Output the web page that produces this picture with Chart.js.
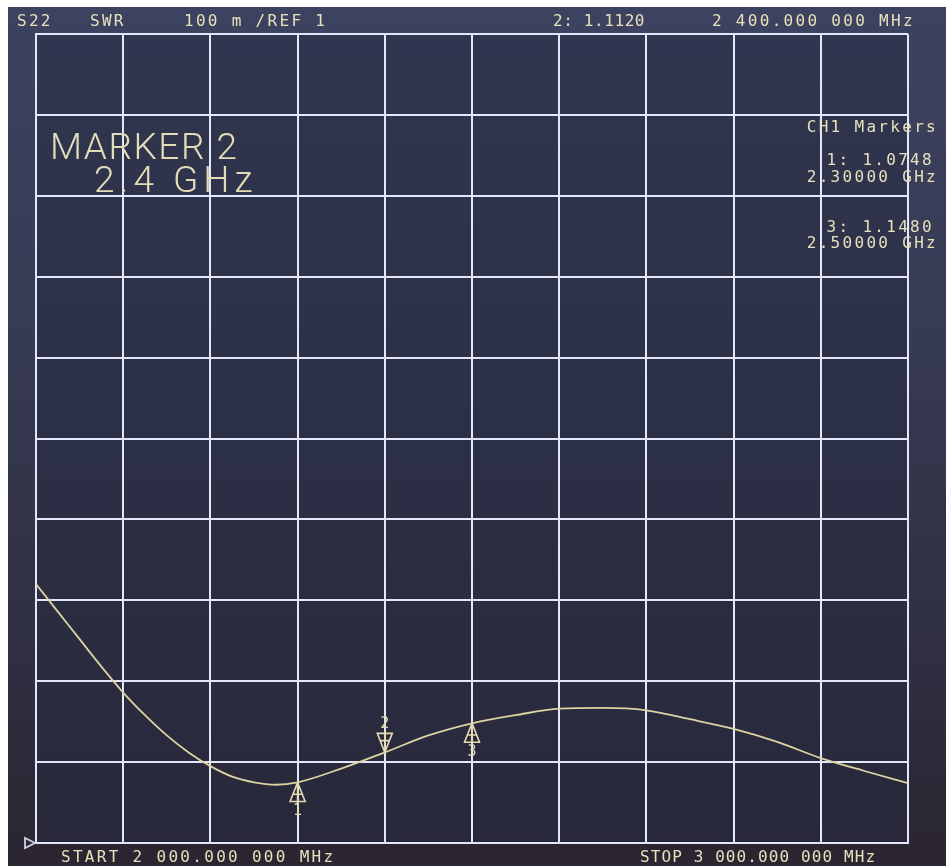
<!DOCTYPE html>
<html lang="en">
<head>
  <meta charset="UTF-8">
  <title>S22 SWR</title>
  <script src="https://cdn.jsdelivr.net/npm/chart.js"></script>
  <style>
    body {
      margin: 0;
      padding: 0;
      background: #ffffff;
      width: 946px;
      height: 866px;
      overflow: hidden;
      position: relative;
    }
    #screen {
      position: absolute;
      left: 8px;
      top: 7px;
      width: 938px;
      height: 859px;
      background: linear-gradient(180deg, #3d4260 0%, #363a52 40%, #302f42 75%, #2a2530 100%);
    }
    #wrap {
      position: absolute;
      left: 0;
      top: 0;
      width: 946px;
      height: 866px;
    }
    .txt {
      position: absolute;
      font-family: "DejaVu Sans Mono", monospace;
      font-size: 16px;
      color: #e6e0bd;
      white-space: pre;
      letter-spacing: 2.3px;
      line-height: 1;
    }
    .big {
      position: absolute;
      font-family: Roboto, "Noto Sans", sans-serif;
      font-weight: 300;
      font-size: 37px;
      color: #e2dcb8;
      white-space: pre;
      line-height: 1;
      letter-spacing: 1.5px;
    }
  </style>
</head>
<body>
  <div id="screen"></div>
  <div id="wrap"><canvas id="c"></canvas></div>

  <!-- Kopfzeile -->
  <div class="txt" style="left:17px; top:13px;">S22</div>
  <div class="txt" style="left:90px; top:13px;">SWR</div>
  <div class="txt" style="left:184px; top:13px;">100 m /REF 1</div>
  <div class="txt" style="left:553px; top:13px; letter-spacing:0.6px;">2: 1.1120</div>
  <div class="txt" style="left:712px; top:13px;">2 400.000 000 MHz</div>

  <!-- Marker-Anzeige -->
  <div class="big" style="left:50px; top:128px;">MARKER 2</div>
  <div class="big" style="left:94px; top:161px; letter-spacing:5px;">2.4 GHz</div>

  <div class="txt" style="right:8px; top:119px;">CH1 Markers</div>
  <div class="txt" style="right:12px; top:152px;">1: 1.0748</div>
  <div class="txt" style="right:8px; top:169px;">2.30000 GHz</div>
  <div class="txt" style="right:12px; top:219px;">3: 1.1480</div>
  <div class="txt" style="right:8px; top:235px;">2.50000 GHz</div>

  <!-- Fußzeile -->
  <div class="txt" style="left:61px; top:849px; letter-spacing:2.3px;">START 2 000.000 000 MHz</div>
  <div class="txt" style="left:640px; top:849px; letter-spacing:1.1px;">STOP 3 000.000 000 MHz</div>

  <script>
    // Messkurve (GHz / SWR)
    const freqGHz = [2.0, 2.025, 2.05, 2.075, 2.1, 2.125, 2.15, 2.175, 2.2, 2.225, 2.25, 2.275, 2.3,
                     2.35, 2.4, 2.45, 2.5, 2.55, 2.6, 2.65, 2.7, 2.75, 2.8, 2.85, 2.9, 2.95, 3.0];
    const swr = [1.320, 1.286, 1.252, 1.218, 1.186, 1.158, 1.133, 1.112, 1.095, 1.082, 1.075, 1.072, 1.075,
                 1.092, 1.112, 1.133, 1.148, 1.158, 1.166, 1.167, 1.164, 1.153, 1.141, 1.125, 1.105, 1.089, 1.074];

    // Marker
    const markerNo = ["1", "2", "3"];
    const markerFreqGHz = [2.3, 2.4, 2.5];
    const markerSwr = [1.0748, 1.1120, 1.1480];
    const markerDir = ["up", "down", "up"];

    // Achsen: START/STOP, REF 1, 100 m / div
    const xMin = 2.0, xMax = 3.0, xStep = 0.1;
    const yMin = 1.0, yMax = 2.0, yStep = 0.1;

    const gridColor = "#e3e7f7";
    const traceColor = "#dcd3a0";
    const markColor = "#e4dcae";

    const screenBg = {
      id: "screenBg",
      beforeDraw(chart) {
        const { ctx, chartArea: a } = chart;
        const g = ctx.createLinearGradient(0, a.top, 0, a.bottom);
        g.addColorStop(0, "#30364f");
        g.addColorStop(0.5, "#2c3046");
        g.addColorStop(1, "#28283a");
        ctx.save();
        ctx.fillStyle = g;
        ctx.fillRect(a.left, a.top, a.right - a.left, a.bottom - a.top);
        ctx.restore();
      }
    };

    const markers = {
      id: "markers",
      afterDatasetsDraw(chart) {
        const { ctx, scales } = chart;
        ctx.save();
        ctx.strokeStyle = markColor;
        ctx.fillStyle = markColor;
        ctx.lineWidth = 1.6;
        ctx.font = "15px 'DejaVu Sans Mono', monospace";
        ctx.textAlign = "center";
        for (let i = 0; i < markerNo.length; i++) {
          const px = scales.x.getPixelForValue(markerFreqGHz[i]);
          const py = scales.y.getPixelForValue(markerSwr[i]);
          const s = markerDir[i] === "up" ? 1 : -1;
          const h = 19, w = 7.5;
          ctx.beginPath();
          ctx.moveTo(px, py);
          ctx.lineTo(px - w, py + s * h);
          ctx.lineTo(px + w, py + s * h);
          ctx.closePath();
          ctx.moveTo(px - w * 0.6, py + s * h * 0.62);
          ctx.lineTo(px + w * 0.6, py + s * h * 0.62);
          ctx.moveTo(px, py);
          ctx.lineTo(px, py + s * (h + 3));
          ctx.stroke();
          ctx.textBaseline = s > 0 ? "top" : "bottom";
          ctx.fillText(markerNo[i], px, py + s * (h + 2));
        }
        // Referenzlinien-Zeiger links unten
        const rx = scales.x.getPixelForValue(xMin);
        const ry = scales.y.getPixelForValue(yMin);
        ctx.strokeStyle = "#cfd3e6";
        ctx.lineWidth = 1.8;
        ctx.beginPath();
        ctx.moveTo(rx - 1, ry);
        ctx.lineTo(rx - 11, ry - 5);
        ctx.lineTo(rx - 11, ry + 5);
        ctx.closePath();
        ctx.stroke();
        ctx.restore();
      }
    };

    new Chart(document.getElementById("c"), {
      type: "line",
      data: {
        datasets: [{
          data: freqGHz.map((f, i) => ({ x: f, y: swr[i] })),
          borderColor: traceColor,
          borderWidth: 1.8,
          pointRadius: 0,
          cubicInterpolationMode: "monotone",
          fill: false
        }]
      },
      options: {
        responsive: true,
        maintainAspectRatio: false,
        animation: false,
        layout: { padding: { left: 36, right: 38, top: 34, bottom: 23 } },
        plugins: {
          legend: { display: false },
          tooltip: { enabled: false }
        },
        scales: {
          x: {
            type: "linear",
            min: xMin, max: xMax,
            ticks: { display: false, stepSize: xStep },
            grid: { color: gridColor, lineWidth: 2, drawTicks: false },
            border: { color: gridColor, width: 2 }
          },
          y: {
            min: yMin, max: yMax,
            ticks: { display: false, stepSize: yStep },
            grid: { color: gridColor, lineWidth: 2, drawTicks: false },
            border: { color: gridColor, width: 2 }
          }
        }
      },
      plugins: [screenBg, markers]
    });
  </script>
</body>
</html>
